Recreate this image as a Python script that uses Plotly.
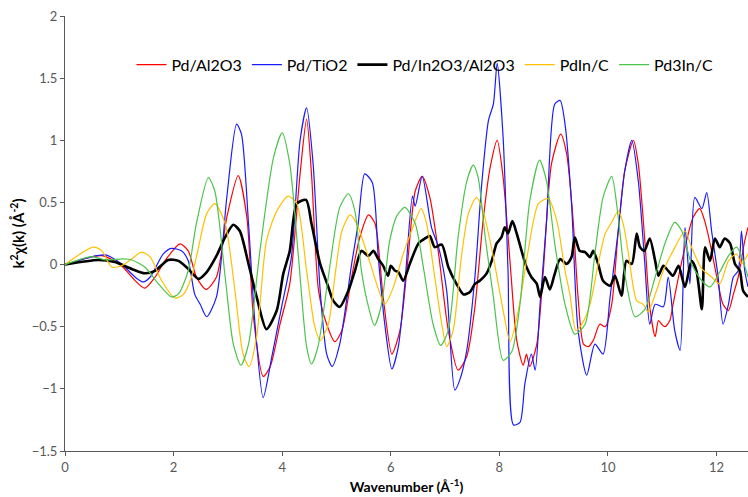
import plotly.graph_objects as go

# ---- data ----
red_k = [0, 0.68, 1.04, 1.26, 1.47, 1.66, 1.84, 2.12, 2.27, 2.42, 2.6, 2.79, 2.98, 3.19, 3.35, 3.47, 3.65, 3.78, 3.96, 4.14, 4.33, 4.45, 4.54, 4.67, 4.82, 4.97, 5.10, 5.28, 5.43, 5.59, 5.71, 5.86, 6.02, 6.17, 6.32, 6.45, 6.58, 6.72, 6.88, 7.06, 7.24, 7.40, 7.55, 7.70, 7.83, 7.96, 8.07, 8.20, 8.32, 8.44, 8.50, 8.56, 8.69, 8.81, 8.96, 9.13, 9.24, 9.36, 9.45, 9.55, 9.64, 9.73, 9.85, 9.95, 10.07, 10.19, 10.31, 10.47, 10.56, 10.68, 10.77, 10.87, 10.93, 10.99, 11.05, 11.14, 11.20, 11.30, 11.42, 11.57, 11.69, 11.79, 11.91, 12.03, 12.12, 12.22, 12.31, 12.40, 12.52, 12.58]
red_v = [0, 0.072, -0.01, -0.115, -0.19, -0.10, 0.03, 0.166, 0.11, -0.10, -0.20, -0.10, 0.38, 0.715, 0.38, -0.42, -0.90, -0.82, -0.48, -0.155, 0.73, 1.17, 0.73, -0.21, -0.48, -0.62, -0.53, -0.10, 0.22, 0.40, 0.33, -0.26, -0.72, -0.53, 0.06, 0.59, 0.71, 0.54, 0.09, -0.53, -0.85, -0.74, -0.34, 0.35, 0.78, 1.0, 0.70, 0.005, -0.61, -0.81, -0.72, -0.82, -0.64, -0.05, 0.81, 1.05, 0.89, 0.35, -0.26, -0.64, -0.66, -0.61, -0.48, -0.50, -0.32, 0.27, 0.755, 1.0, 0.81, 0.19, -0.34, -0.58, -0.45, -0.48, -0.50, -0.45, -0.32, -0.10, 0.14, 0.38, 0.45, 0.34, 0.11, -0.155, -0.32, -0.37, -0.24, -0.10, 0.19, 0.30]

blue_k = [0, 0.74, 1.04, 1.29, 1.44, 1.57, 1.81, 1.96, 2.15, 2.27, 2.39, 2.49, 2.61, 2.79, 2.98, 3.16, 3.25, 3.38, 3.50, 3.65, 3.81, 3.99, 4.17, 4.33, 4.45, 4.57, 4.70, 4.82, 4.92, 5.06, 5.28, 5.40, 5.52, 5.66, 5.77, 5.89, 6.02, 6.14, 6.26, 6.40, 6.45, 6.58, 6.75, 6.88, 7.03, 7.18, 7.27, 7.40, 7.55, 7.67, 7.80, 7.89, 7.96, 8.07, 8.16, 8.26, 8.38, 8.47, 8.59, 8.66, 8.75, 8.87, 9.02, 9.12, 9.21, 9.33, 9.45, 9.61, 9.76, 9.91, 10.04, 10.19, 10.31, 10.44, 10.56, 10.68, 10.77, 10.87, 11.02, 11.11, 11.23, 11.33, 11.42, 11.51, 11.60, 11.73, 11.82, 11.91, 12.03, 12.12, 12.22, 12.31, 12.40, 12.46, 12.52, 12.58]
blue_v = [0, 0.078, 0.005, -0.10, -0.14, -0.10, 0.086, 0.13, 0.11, 0.03, -0.24, -0.32, -0.42, -0.26, 0.54, 1.13, 1.05, 0.33, -0.48, -1.07, -0.74, -0.34, 0.06, 1.0, 1.26, 0.81, -0.21, -0.72, -0.82, -0.64, 0.005, 0.33, 0.73, 0.66, 0.06, -0.48, -0.84, -0.66, -0.155, 0.55, 0.47, 0.71, 0.30, 0.14, -0.21, -1.01, -0.93, -0.69, -0.10, 0.62, 1.16, 1.29, 1.62, 1.02, -0.05, -1.29, -1.27, -0.96, -0.72, -0.85, -0.32, 0.35, 1.29, 1.32, 1.13, 0.49, -0.53, -0.89, -0.64, -0.72, -0.26, 0.27, 0.755, 1.0, 0.67, 0.005, -0.48, -0.32, -0.34, -0.10, -0.53, -0.69, 0.30, -0.155, 0.54, 0.45, 0.58, 0.27, -0.10, -0.48, -0.32, -0.10, -0.05, 0.27, -0.05, -0.18]

black_k = [0, 0.61, 0.92, 1.23, 1.47, 1.66, 1.90, 2.09, 2.27, 2.46, 2.61, 2.79, 2.95, 3.10, 3.22, 3.38, 3.53, 3.71, 3.90, 4.02, 4.14, 4.27, 4.44, 4.54, 4.70, 4.85, 4.94, 5.06, 5.22, 5.34, 5.46, 5.59, 5.68, 5.77, 5.86, 5.95, 6.00, 6.08, 6.14, 6.23, 6.35, 6.51, 6.63, 6.72, 6.81, 6.94, 7.06, 7.21, 7.34, 7.46, 7.55, 7.64, 7.76, 7.86, 7.95, 8.04, 8.10, 8.16, 8.24, 8.32, 8.41, 8.50, 8.59, 8.69, 8.75, 8.84, 8.93, 9.02, 9.12, 9.24, 9.33, 9.39, 9.48, 9.58, 9.67, 9.73, 9.82, 9.91, 10.04, 10.13, 10.25, 10.34, 10.44, 10.53, 10.59, 10.67, 10.77, 10.87, 10.93, 11.02, 11.11, 11.20, 11.30, 11.42, 11.54, 11.63, 11.73, 11.79, 11.88, 11.97, 12.06, 12.15, 12.25, 12.34, 12.43, 12.49, 12.58]
black_v = [0, 0.037, 0.02, -0.035, -0.07, -0.05, 0.037, 0.03, -0.035, -0.115, -0.06, 0.07, 0.22, 0.32, 0.27, 0.005, -0.26, -0.52, -0.37, -0.075, 0.11, 0.49, 0.52, 0.33, 0.005, -0.18, -0.29, -0.34, -0.21, -0.05, 0.11, 0.07, 0.11, 0.045, -0.01, -0.09, -0.01, -0.05, -0.06, -0.13, 0.005, 0.17, 0.21, 0.23, 0.14, 0.16, -0.02, -0.155, -0.24, -0.22, -0.155, -0.13, -0.075, 0.03, 0.17, 0.22, 0.30, 0.25, 0.35, 0.25, 0.11, -0.02, -0.10, -0.155, -0.26, -0.10, -0.20, -0.075, 0.045, 0.005, 0.06, 0.22, 0.11, 0.10, 0.06, 0.11, 0.005, -0.13, -0.17, -0.09, -0.25, 0.03, 0.005, 0.25, 0.14, 0.11, 0.21, 0.03, -0.09, -0.01, -0.05, -0.09, -0.01, -0.18, 0.03, -0.05, -0.36, 0.14, 0.03, 0.21, 0.14, 0.21, 0.17, 0.005, -0.05, -0.21, -0.26]

orange_k = [0, 0.52, 0.68, 0.86, 1.04, 1.23, 1.41, 1.57, 1.78, 2.03, 2.18, 2.33, 2.46, 2.61, 2.76, 2.95, 3.13, 3.28, 3.39, 3.53, 3.71, 3.90, 4.11, 4.27, 4.45, 4.60, 4.70, 4.85, 4.97, 5.10, 5.25, 5.37, 5.55, 5.74, 5.89, 6.05, 6.23, 6.38, 6.56, 6.66, 6.81, 6.94, 7.03, 7.15, 7.30, 7.43, 7.58, 7.70, 7.89, 8.07, 8.20, 8.35, 8.53, 8.72, 8.90, 9.06, 9.21, 9.30, 9.41, 9.52, 9.67, 9.82, 9.95, 10.07, 10.19, 10.28, 10.37, 10.53, 10.65, 10.74, 10.87, 11.02, 11.20, 11.42, 11.54, 11.73, 11.91, 12.06, 12.22, 12.37, 12.46, 12.58]
orange_v = [0, 0.14, 0.11, -0.02, -0.01, 0.046, 0.10, 0.06, -0.13, -0.27, -0.24, -0.10, 0.14, 0.41, 0.49, 0.33, -0.21, -0.72, -0.82, -0.58, 0.19, 0.43, 0.55, 0.49, -0.05, -0.50, -0.61, -0.48, -0.10, 0.27, 0.40, 0.33, 0.11, -0.155, -0.32, -0.18, 0.086, 0.27, 0.45, 0.33, -0.10, -0.48, -0.66, -0.53, 0.06, 0.41, 0.54, 0.43, 0.06, -0.37, -0.62, -0.37, 0.11, 0.49, 0.53, 0.35, -0.05, -0.24, -0.53, -0.48, -0.32, 0.005, 0.25, 0.34, 0.43, 0.33, 0.11, -0.29, -0.32, -0.38, -0.24, -0.05, 0.11, 0.27, 0.14, -0.035, -0.10, -0.155, 0.03, 0.086, 0.005, 0.086]

green_k = [0, 0.49, 0.74, 1.07, 1.23, 1.47, 1.72, 1.96, 2.09, 2.27, 2.42, 2.64, 2.76, 2.95, 3.10, 3.24, 3.38, 3.59, 3.84, 4.00, 4.14, 4.30, 4.45, 4.54, 4.66, 4.85, 5.06, 5.22, 5.34, 5.46, 5.59, 5.70, 5.83, 5.98, 6.11, 6.26, 6.45, 6.60, 6.78, 6.92, 7.06, 7.24, 7.40, 7.52, 7.61, 7.74, 7.89, 8.07, 8.23, 8.38, 8.56, 8.74, 8.87, 9.02, 9.21, 9.39, 9.58, 9.76, 9.91, 10.07, 10.19, 10.31, 10.50, 10.68, 10.87, 11.05, 11.23, 11.36, 11.54, 11.73, 11.88, 12.06, 12.22, 12.37, 12.58]
green_v = [0, 0.064, 0.037, 0.046, 0.037, -0.02, -0.155, -0.26, -0.236, -0.05, 0.33, 0.70, 0.59, -0.10, -0.64, -0.81, -0.64, 0.11, 0.86, 1.06, 0.81, 0.06, -0.66, -0.80, -0.66, -0.10, 0.46, 0.57, 0.43, -0.05, -0.34, -0.49, -0.32, 0.19, 0.39, 0.46, 0.33, -0.02, -0.48, -0.65, -0.53, 0.22, 0.67, 0.80, 0.70, 0.22, -0.26, -0.77, -0.70, -0.32, 0.51, 0.84, 0.67, 0.17, -0.32, -0.56, -0.48, 0.086, 0.54, 0.71, 0.38, -0.075, -0.42, -0.36, -0.10, 0.17, 0.34, 0.27, 0.005, -0.13, -0.18, -0.06, 0.07, 0.14, -0.10]

names = ["Pd/Al2O3", "Pd/TiO2", "Pd/In2O3/Al2O3", "PdIn/C", "Pd3In/C"]
colors = ["#FF0000", "#1A1AFF", "#000000", "#FFC000", "#4CC44C"]
widths = [1.2, 1.2, 2.6, 1.2, 1.2]
xs = [red_k, blue_k, black_k, orange_k, green_k]
ys = [red_v, blue_v, black_v, orange_v, green_v]

fig = go.Figure()
for n, c, w, x, y in zip(names, colors, widths, xs, ys):
    fig.add_trace(go.Scatter(x=x, y=y, mode="lines", name=n,
                             line=dict(color=c, width=w, shape="spline", smoothing=0.7)))

font = "Lato, 'Liberation Sans', sans-serif"
fig.update_layout(
    width=748, height=497,
    margin=dict(l=65, r=0, t=16, b=46),
    paper_bgcolor="white", plot_bgcolor="white",
    font=dict(family=font, size=13, color="#595959"),
    showlegend=True,
    legend=dict(orientation="h", x=0.527, y=0.888, xanchor="center", yanchor="middle",
                font=dict(size=16, color="#000000"), bgcolor="rgba(0,0,0,0)",
                itemwidth=30, tracegroupgap=0),
    xaxis=dict(range=[0, 12.58], tickvals=[0, 2, 4, 6, 8, 10, 12], showgrid=False, zeroline=False,
               showline=True, linecolor="#595959", linewidth=1, ticks="outside", ticklen=4,
               tickcolor="#595959",
               title=dict(text="<b>Wavenumber (Å<sup>-1</sup>)</b>", font=dict(size=14, color="#000000"),
                          standoff=8)),
    yaxis=dict(range=[-1.5, 2], tickvals=[-1.5, -1, -0.5, 0, 0.5, 1, 1.5, 2], showgrid=False, zeroline=False,
               showline=True, linecolor="#595959", linewidth=1, ticks="outside", ticklen=4,
               tickcolor="#595959",
               title=dict(text="<b>k<sup>2</sup>χ(k) (Å<sup>-2</sup>)</b>", font=dict(size=15, color="#000000"),
                          standoff=3)),
)
fig.write_html("out.html")
